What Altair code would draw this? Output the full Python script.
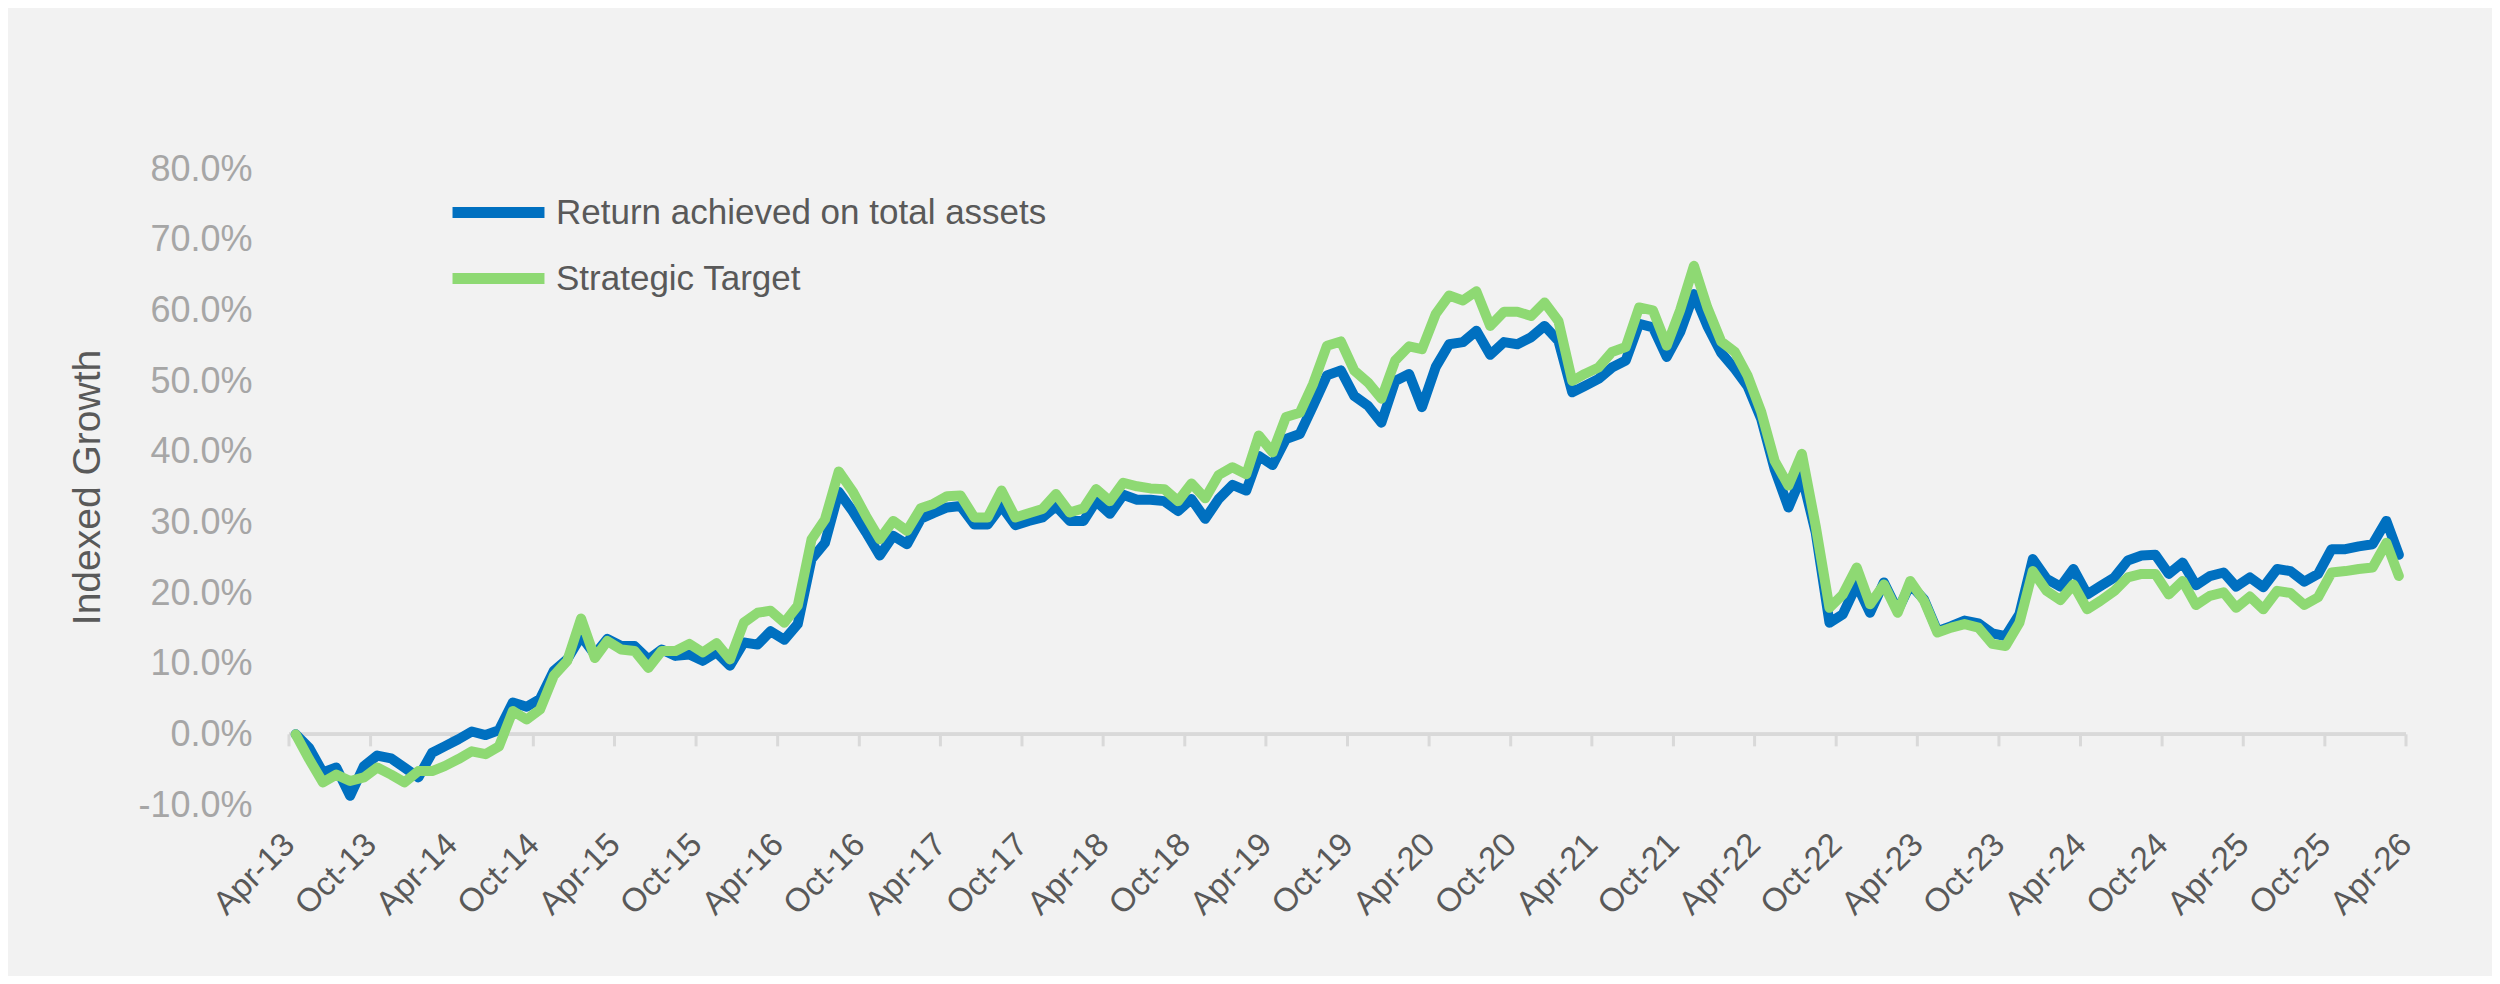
import altair as alt
import pandas as pd

# Monthly series, Apr-13 .. Mar-26 (values in %)
start_year, start_month = 2013, 4

return_achieved = [
    0.0, -1.9, -5.4, -4.7, -8.7, -4.5, -3.0, -3.4, -4.7, -6.1,
    -2.6, -1.7, -0.7, 0.4, -0.1, 0.6, 4.5, 3.9, 5.0, 9.0,
    10.6, 13.9, 11.3, 13.5, 12.5, 12.5, 10.6, 12.0, 11.1, 11.3,
    10.4, 11.6, 9.7, 13.0, 12.7, 14.6, 13.4, 15.6, 24.8, 27.1,
    34.3, 31.6, 28.6, 25.3, 28.1, 26.9, 30.5, 31.3, 32.1, 32.3,
    29.7, 29.7, 32.3, 29.6, 30.2, 30.7, 32.3, 30.2, 30.2, 33.0,
    31.2, 33.9, 33.2, 33.2, 33.0, 31.6, 33.3, 30.5, 33.3, 35.3,
    34.5, 39.4, 38.1, 41.8, 42.5, 46.5, 50.8, 51.5, 47.9, 46.5,
    44.1, 50.0, 51.0, 46.3, 52.0, 55.2, 55.5, 57.1, 53.7, 55.5,
    55.2, 56.2, 57.8, 55.7, 48.4, 49.3, 50.3, 51.9, 52.9, 58.1,
    57.6, 53.4, 56.9, 62.3, 57.8, 54.0, 51.7, 49.3, 44.6, 37.5,
    32.1, 36.6, 28.6, 15.8, 17.0, 21.2, 17.2, 21.5, 17.5, 21.2,
    19.1, 14.6, 15.3, 16.1, 15.7, 14.3, 13.9, 17.0, 24.8, 22.0,
    20.9, 23.4, 19.8, 21.0, 22.2, 24.6, 25.3, 25.4, 22.7, 24.3,
    21.1, 22.4, 22.9, 20.9, 22.2, 20.8, 23.4, 23.1, 21.6, 22.7,
    26.2, 26.2, 26.6, 26.9, 30.2, 25.4,
]

strategic_target = [
    0.0, -3.5, -6.8, -5.7, -6.6, -6.1, -4.7, -5.7, -6.8, -5.2,
    -5.2, -4.5, -3.5, -2.4, -2.8, -1.7, 3.3, 2.1, 3.5, 8.3,
    10.4, 16.4, 10.8, 13.2, 12.0, 11.8, 9.4, 11.8, 11.8, 12.8,
    11.6, 12.9, 10.6, 15.8, 17.2, 17.5, 15.8, 18.2, 27.6, 30.4,
    37.2, 34.4, 30.9, 27.6, 30.2, 28.8, 32.0, 32.6, 33.7, 33.8,
    30.7, 30.7, 34.5, 30.7, 31.3, 31.9, 34.0, 31.4, 32.0, 34.7,
    33.0, 35.6, 35.1, 34.8, 34.7, 33.0, 35.5, 33.4, 36.7, 37.8,
    36.8, 42.3, 39.9, 44.9, 45.5, 49.6, 55.0, 55.6, 51.5, 49.8,
    47.5, 52.9, 54.9, 54.5, 59.5, 62.1, 61.4, 62.7, 57.8, 59.8,
    59.8, 59.2, 61.1, 58.5, 50.0, 51.0, 51.9, 54.1, 54.8, 60.4,
    60.0, 55.0, 60.0, 66.3, 60.4, 55.6, 54.1, 50.8, 45.6, 38.7,
    35.2, 39.7, 29.5, 17.9, 19.8, 23.6, 18.4, 21.2, 17.2, 21.7,
    18.9, 14.4, 15.1, 15.6, 15.1, 12.8, 12.5, 15.8, 23.1, 20.3,
    19.0, 21.2, 17.7, 18.9, 20.3, 22.2, 22.7, 22.7, 19.8, 21.7,
    18.3, 19.6, 20.1, 17.9, 19.5, 17.7, 20.3, 20.0, 18.3, 19.4,
    22.9, 23.1, 23.4, 23.6, 27.1, 22.4,
]

series_names = ["Return achieved on total assets", "Strategic Target"]
series_colors = ["#0070C0", "#8ED973"]
y_ticks = [-0.1, 0.0, 0.1, 0.2, 0.3, 0.4, 0.5, 0.6, 0.7, 0.8]
x_tick_months = [(y, m) for y in range(2013, 2027) for m in (4, 10)
                 if (y, m) <= (2026, 4)]


def month_date(i):
    y = start_year + (start_month - 1 + i) // 12
    m = (start_month - 1 + i) % 12 + 1
    return f"{y:04d}-{m:02d}-16"


rows = []
for name, vals in zip(series_names, [return_achieved, strategic_target]):
    for i, v in enumerate(vals):
        rows.append({"date": month_date(i), "series": name, "value": v / 100.0})
df = pd.DataFrame(rows)

ticks_df = pd.DataFrame({"date": [f"{y:04d}-{m:02d}-01" for y, m in x_tick_months]})

x_values = [alt.DateTime(year=y, month=m, date=1, utc=True) for y, m in x_tick_months]
x_scale = alt.Scale(type="utc", domain=[alt.DateTime(year=2013, month=4, date=1, utc=True),
                                        alt.DateTime(year=2026, month=4, date=1, utc=True)])
y_scale = alt.Scale(domain=[-0.1, 0.8], nice=False, zero=False)

narrow = "Liberation Sans Narrow, Arial Narrow, Liberation Sans, Arial"

lines = alt.Chart(df).mark_line(strokeWidth=10, strokeJoin="round", strokeCap="round").encode(
    x=alt.X("date:T", scale=x_scale, title=None,
            axis=alt.Axis(values=x_values,
                          labelExpr="utcFormat(datum.value, '%b-%y')",
                          labelAngle=-45, labelAlign="right", labelBaseline="middle",
                          labelPadding=34, labelFontSize=33, labelColor="#595959",
                          labelFont="Liberation Sans", domain=False, ticks=False,
                          grid=False, labelOverlap=False)),
    y=alt.Y("value:Q", scale=y_scale, title="Indexed Growth",
            axis=alt.Axis(values=y_ticks,
                          labelExpr="replace(format(datum.value, '.1%'), '\u2212', '-')",
                          labelFontSize=36, labelFont=narrow, labelColor="#A6A6A6",
                          labelPadding=37, domain=False, ticks=False, grid=False,
                          titleFont="Liberation Sans", titleFontSize=39,
                          titleFontWeight="normal", titleColor="#595959",
                          titlePadding=30)),
    color=alt.Color("series:N",
                    scale=alt.Scale(domain=series_names, range=series_colors),
                    legend=alt.Legend(title=None, orient="none", legendX=166, legendY=0,
                                      symbolType="M-1.21,0L1.21,0", symbolSize=5776,
                                      symbolStrokeWidth=11, labelFont=narrow,
                                      labelFontSize=35, labelColor="#595959",
                                      labelOffset=14, rowPadding=-24, padding=0,
                                      labelLimit=1000)),
)

zero_line = alt.Chart(ticks_df).mark_rule(color="#D9D9D9", strokeWidth=3).encode(
    y=alt.datum(0, scale=y_scale)
)

tick_marks = alt.Chart(ticks_df).mark_rule(color="#D9D9D9", strokeWidth=3).encode(
    x=alt.X("date:T", scale=x_scale),
    y=alt.datum(0.0),
    y2=alt.datum(-0.017),
)

chart = alt.layer(zero_line, tick_marks, lines).properties(
    width=2117,
    height=636,
    padding={"left": 281, "top": 161, "right": 86, "bottom": 171},
    autosize=alt.AutoSizeParams(type="none"),
    background="#F2F2F2",
).configure_view(stroke=None)

chart.save("out.html", embed_options={"renderer": "svg", "actions": False})
